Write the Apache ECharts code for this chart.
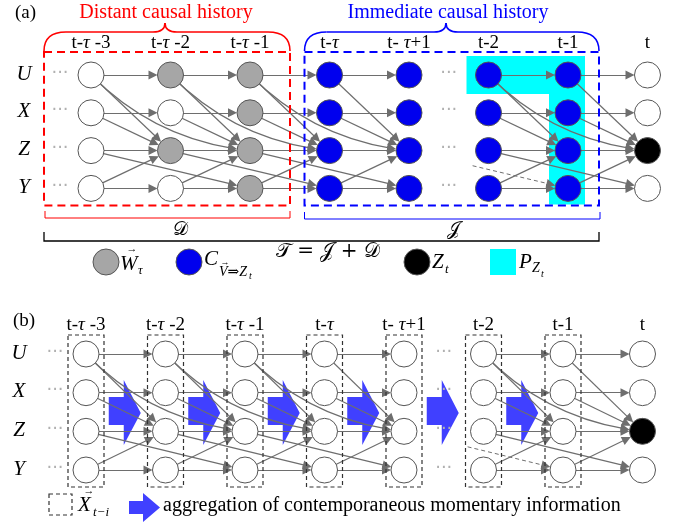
<!DOCTYPE html>
<html>
<head>
<meta charset="utf-8">
<script src="https://cdn.jsdelivr.net/npm/echarts@6/dist/echarts.min.js"></script>
<style>
  html, body { margin: 0; padding: 0; background: #fff; }
  #main { width: 674px; height: 522px; }
</style>
</head>
<body>
<div id="main"></div>
<script>
// column (time step) labels and row (variable) labels
var colLabels = ['t-τ -3', 't-τ -2', 't-τ -1', 't-τ', 't- τ+1', 't-2', 't-1', 't'];
var rowNames = ['U', 'X', 'Z', 'Y'];

// node kind per column (rows U, X, Z, Y): 0 white, 1 gray, 2 blue, 3 black
var kindsA = [
  [0, 0, 0, 0],
  [1, 0, 1, 0],
  [1, 1, 1, 1],
  [2, 2, 2, 2],
  [2, 2, 2, 2],
  [2, 2, 2, 2],
  [2, 2, 2, 2],
  [0, 0, 3, 0]
];
var kindsB = [
  [0, 0, 0, 0],
  [0, 0, 0, 0],
  [0, 0, 0, 0],
  [0, 0, 0, 0],
  [0, 0, 0, 0],
  [0, 0, 0, 0],
  [0, 0, 0, 0],
  [0, 0, 3, 0]
];
var kindColor = ['#ffffff', '#a6a6a6', '#0000ee', '#000000'];

// causal links: [from, to, lag, curveness]
var linkRules = [
  ['U', 'U', 1, 0], ['X', 'X', 1, 0], ['Z', 'Z', 1, 0], ['Y', 'Y', 1, 0],
  ['U', 'Z', 1, 0], ['X', 'Z', 1, 0], ['Y', 'Z', 1, 0],
  ['U', 'Z', 2, -0.18], ['Z', 'Y', 2, 0]
];
var gapAfter = 4;        // the "..." break sits between column 4 and 5
var dashedFrac = 0.4;    // dashed Z(t-3) -> Y(t-1) is only drawn from this fraction on

var SERIF = '"Liberation Serif", "DejaVu Serif", serif';
var chart = echarts.init(document.getElementById('main'));

function buildPanel(p, kinds) {
  var nodes = [], dots = [], links = [];
  kinds.forEach(function (col, c) {
    col.forEach(function (k, r) {
      nodes.push({ name: p + c + '-' + r, value: [c, r] });
      dots.push({ value: [c, r], itemStyle: { color: kindColor[k] } });
    });
  });
  for (var c = 1; c < kinds.length; c++) {
    linkRules.forEach(function (lr) {
      var s = c - lr[2];
      if (s < 0) return;
      if (s <= gapAfter && c > gapAfter) return;
      links.push({
        source: p + s + '-' + rowNames.indexOf(lr[0]),
        target: p + c + '-' + rowNames.indexOf(lr[1]),
        lineStyle: { curveness: lr[3] }
      });
    });
  }
  var zr = rowNames.indexOf('Z'), yr = rowNames.indexOf('Y');
  nodes.push({ name: p + 'ghost', value: [gapAfter + 2 * dashedFrac, zr + (yr - zr) * dashedFrac], symbolSize: 0 });
  links.push({ source: p + 'ghost', target: p + (gapAfter + 2) + '-' + yr, lineStyle: { type: [4, 3], width: 1 } });
  return { nodes: nodes, dots: dots, links: links };
}

var pa = buildPanel('a', kindsA);
var pb = buildPanel('b', kindsB);

function graphSeries(d, i) {
  return {
    type: 'graph', coordinateSystem: 'cartesian2d', xAxisIndex: i, yAxisIndex: i,
    z: 3, silent: true, animation: false,
    symbolSize: 35, itemStyle: { opacity: 0 },
    edgeSymbol: ['none', 'triangle'], edgeSymbolSize: 9,
    lineStyle: { color: '#6e6e6e', width: 1.2, opacity: 1 },
    label: { show: false },
    data: d.nodes, links: d.links
  };
}
function nodeSeries(d, i) {
  return {
    type: 'scatter', xAxisIndex: i, yAxisIndex: i, z: 4, clip: false,
    silent: true, animation: false, symbolSize: 26,
    itemStyle: { borderColor: '#555', borderWidth: 1, opacity: 1 },
    data: d.dots
  };
}
function hiddenX(i) { return { type: 'value', gridIndex: i, min: -1, max: 7, show: false }; }
function hiddenY(i) { return { type: 'value', gridIndex: i, min: 0, max: 3, inverse: true, show: false }; }

chart.setOption({
  animation: false,
  grid: [
    { left: 11.5, top: 75, width: 636, height: 113.4 },
    { left: 6.5, top: 354, width: 636, height: 116 }
  ],
  xAxis: [hiddenX(0), hiddenX(1)],
  yAxis: [hiddenY(0), hiddenY(1)],
  series: [graphSeries(pa, 0), nodeSeries(pa, 0), graphSeries(pb, 1), nodeSeries(pb, 1)]
});

// ---- decorations ----
function px(g, c, r) { return chart.convertToPixel({ gridIndex: g }, [c, r]); }
function txt(x, y, s, size, opt) {
  opt = opt || {};
  return {
    type: 'text', x: x, y: y, z: 6, silent: true,
    style: {
      text: s, fill: opt.color || '#000',
      align: opt.align || 'center', verticalAlign: 'middle',
      fontSize: size, fontFamily: opt.family || SERIF,
      fontStyle: opt.italic ? 'italic' : 'normal',
      rich: opt.rich
    }
  };
}
function colText(s) {
  return '{n|' + s.replace('τ', '}{i|τ}{n|') + '}';
}
function line(pts, color, w, dash, z) {
  return { type: 'polyline', z: z || 5, silent: true, shape: { points: pts },
    style: { stroke: color, lineWidth: w, fill: 'none', lineDash: dash || null } };
}
function rect(x, y, w, h, style, z) {
  return { type: 'rect', z: z || 5, silent: true, shape: { x: x, y: y, width: w, height: h }, style: style };
}
function poly(pts, fill, z) {
  return { type: 'polygon', z: z || 0, silent: true, shape: { points: pts }, style: { fill: fill } };
}
function circle(cx, cy, r, fill) {
  return { type: 'circle', z: 5, silent: true, shape: { cx: cx, cy: cy, r: r }, style: { fill: fill, stroke: '#555', lineWidth: 1 } };
}
function brace(x1, x2, xm, yEnd, yBar, yTip, color) {
  var st = { stroke: color, lineWidth: 1.6, fill: 'none' };
  function bz(a, b, c2) {
    return { type: 'bezierCurve', z: 5, silent: true,
      shape: { x1: a[0], y1: a[1], cpx1: c2[0], cpy1: c2[1], x2: b[0], y2: b[1] }, style: st };
  }
  return [
    bz([x1, yEnd], [x1 + 22, yBar], [x1, yBar]),
    line([[x1 + 22, yBar], [xm - 12, yBar]], color, 1.6),
    bz([xm - 12, yBar], [xm, yTip], [xm, yBar]),
    bz([xm, yTip], [xm + 12, yBar], [xm, yBar]),
    line([[xm + 12, yBar], [x2 - 22, yBar]], color, 1.6),
    bz([x2 - 22, yBar], [x2, yEnd], [x2, yBar])
  ];
}
var richCol = {
  n: { fontSize: 19, fontFamily: SERIF, fill: '#000' },
  i: { fontSize: 19, fontFamily: SERIF, fontStyle: 'italic', fill: '#000' }
};

var g = [];
// panel labels
g.push(txt(15, 13, '(a)', 19, { align: 'left' }));
g.push(txt(13, 321, '(b)', 19, { align: 'left' }));

// row / column labels, leading and gap dots for both panels
[[0, 32], [1, 29]].forEach(function (pp) {
  var gi = pp[0];
  colLabels.forEach(function (s, c) {
    var p0 = px(gi, c, 0);
    g.push(txt(p0[0], p0[1] - pp[1], colText(s), 19, { rich: richCol }));
  });
  rowNames.forEach(function (s, r) {
    var p0 = px(gi, 0, r);
    var pg = px(gi, gapAfter + 0.5, r);
    g.push(txt(p0[0] - 67, p0[1] - 1, s, 21, { italic: true }));
    g.push(txt(p0[0] - 31, p0[1] - 2, '···', 18, { color: '#b0b0b0', family: '"DejaVu Sans"' }));
    g.push(txt(pg[0], p0[1] - 2, '···', 18, { color: '#b0b0b0', family: '"DejaVu Sans"' }));
  });
});

// ---- panel (a) ----
var a0 = px(0, 0, 0), a2 = px(0, 2, 3), a3 = px(0, 3, 0), a5 = px(0, 5, 0), a6 = px(0, 6, 3);
var topY = a0[1] - 23, botY = a2[1] + 17;
var redL = a0[0] - 47, redR = a2[0] + 40, bluL = a3[0] - 25, bluR = a6[0] + 31;
// cyan parents set of Z_t
g.push(poly([[a5[0] - 22, topY + 4], [a6[0] + 17, topY + 4], [a6[0] + 17, botY - 1],
  [a6[0] - 19, botY - 1], [a6[0] - 19, a0[1] + 19], [a5[0] - 22, a0[1] + 19]], '#00ffff', 0));
g.push(rect(redL, topY, redR - redL, botY - topY, { fill: 'none', stroke: '#ff0000', lineWidth: 2, lineDash: [8, 5] }));
g.push(rect(bluL, topY, bluR - bluL, botY - topY, { fill: 'none', stroke: '#0000ff', lineWidth: 2, lineDash: [8, 5] }));
g = g.concat(brace(redL, redR, 165, topY - 1, 32, 23, '#ff0000'));
g = g.concat(brace(bluL, bluR, 446, topY - 1, 32, 23, '#0000ff'));
g.push(txt(166, 13, 'Distant causal history', 20, { color: '#ff0000' }));
g.push(txt(448, 13, 'Immediate causal history', 20, { color: '#0000ff' }));
// brackets
g.push(line([[redL + 1, 211], [redL + 1, 218], [redR, 218], [redR, 211]], '#ff0000', 1));
g.push(line([[bluL, 212], [bluL, 219], [bluR + 1, 219], [bluR + 1, 212]], '#0000ff', 1));
g.push(line([[redL, 232], [redL, 241], [bluR, 241], [bluR, 232]], '#000', 1.3));
g.push(txt(180, 230, '𝒟', 19, { family: '"DejaVu Serif", "DejaVu Sans", serif' }));
g.push(txt(453, 230, '𝒥', 19, { family: '"DejaVu Serif", "DejaVu Sans", serif' }));
// legend (a)
g.push(circle(106, 262, 13, '#a6a6a6'));
g.push(txt(120, 264, 'W', 21, { italic: true, align: 'left' }));
g.push(txt(132, 249, '→', 11));
g.push(txt(138, 271, 'τ', 13, { italic: true, align: 'left' }));
g.push(circle(189, 262, 13, '#0000ee'));
g.push(txt(204, 259, 'C', 21, { italic: true, align: 'left' }));
g.push(txt(219, 272, 'V⇒Z', 14, { italic: true, align: 'left' }));
g.push(txt(225, 263, '→', 9));
g.push(txt(249, 276, 't', 10, { italic: true, align: 'left' }));
g.push(txt(276, 252, '𝒯 = 𝒥 + 𝒟', 20, { align: 'left', family: '"DejaVu Serif", "DejaVu Sans", serif' }));
g.push(circle(417, 262, 13, '#000000'));
g.push(txt(432, 262, 'Z', 21, { italic: true, align: 'left' }));
g.push(txt(445, 270, 't', 13, { italic: true, align: 'left' }));
g.push(rect(490, 249, 26, 26, { fill: '#00ffff' }));
g.push(txt(519, 262, 'P', 21, { italic: true, align: 'left' }));
g.push(txt(532, 268, 'Z', 14, { italic: true, align: 'left' }));
g.push(txt(541, 274, 't', 10, { italic: true, align: 'left' }));

// ---- panel (b) ----
var b0 = px(1, 0, 0), b3 = px(1, 0, 3);
for (var c = 0; c < colLabels.length - 1; c++) {
  var bc = px(1, c, 0);
  g.push(rect(bc[0] - 18, b0[1] - 19, 36, b3[1] - b0[1] + 36,
    { fill: 'none', stroke: '#333', lineWidth: 1.2, lineDash: [4, 3] }));
  // aggregation arrow towards next column (none into the last step t)
  if (c >= colLabels.length - 2) continue;
  var mid = px(1, c + 0.5, 1.5);
  var mx = mid[0], my = mid[1];
  g.push(poly([[mx - 17, my - 15], [mx - 2, my - 15], [mx - 2, my - 32], [mx + 15, my + 1],
    [mx - 2, my + 33], [mx - 2, my + 13], [mx - 17, my + 13]], '#4040ff', 1));
}
// legend (b)
g.push(rect(49, 494, 23, 21, { fill: 'none', stroke: '#333', lineWidth: 1.2, lineDash: [4, 3] }));
g.push(txt(78, 505, 'X', 21, { italic: true, align: 'left' }));
g.push(txt(89, 491, '→', 11));
g.push(txt(93, 513, 't−i', 13, { italic: true, align: 'left' }));
g.push(poly([[129, 501], [143, 501], [143, 493], [160, 507.5], [143, 522], [143, 514], [129, 514]], '#4040ff', 5));
g.push(txt(163, 506, 'aggregation of contemporaneous momentary information', 20, { align: 'left' }));

chart.setOption({ graphic: { elements: g } });
</script>
</body>
</html>
